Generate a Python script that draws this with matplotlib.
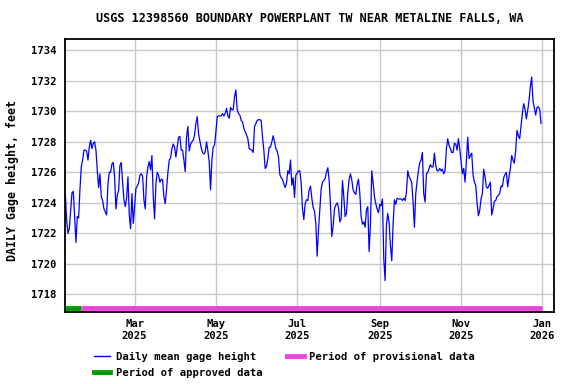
import pandas as pd
import matplotlib
matplotlib.use("Agg")
import matplotlib.pyplot as plt
from matplotlib.lines import Line2D

plt.rcParams['font.family'] = ['DejaVu Sans Mono']
plt.rcParams['font.weight'] = 'bold'

# daily mean gage height, feet (starting 2025-01-08)
start_date = '2025-01-08'
gage_height = [
    1724.6, 1722.85, 1722.0, 1722.3, 1723.5, 1724.65, 1724.75, 1723.1, 1721.4, 1723.1,
    1723.0, 1724.9, 1726.35, 1726.8, 1727.45, 1727.45, 1727.4, 1726.8, 1727.65, 1728.1,
    1727.55, 1727.9, 1728.0, 1727.45, 1726.1, 1725.0, 1725.9, 1724.4, 1724.15, 1723.6,
    1723.4, 1723.2, 1725.25, 1726.0, 1726.0, 1726.55, 1726.65, 1725.7, 1723.6, 1724.5,
    1724.8, 1726.45, 1726.65, 1725.35, 1724.2, 1723.75, 1724.3, 1725.7, 1723.2, 1722.3,
    1724.6, 1722.65, 1723.75, 1724.95, 1725.1, 1725.3, 1725.8, 1725.9, 1725.75, 1724.2,
    1723.6, 1725.7, 1726.35, 1726.7, 1726.15, 1727.1, 1724.4, 1722.95, 1725.25, 1726.0,
    1725.8, 1725.35, 1725.55, 1725.5, 1724.4, 1723.95, 1724.9, 1726.0, 1726.8, 1726.95,
    1727.55, 1727.85, 1727.65, 1727.0, 1727.65, 1728.3, 1728.35, 1727.45, 1727.45, 1726.8,
    1726.05, 1728.35, 1729.0, 1727.4, 1727.85, 1728.0, 1728.1, 1728.45, 1729.2, 1729.65,
    1728.55, 1728.05, 1727.6, 1727.3, 1727.2, 1727.35, 1728.0, 1727.4, 1726.7, 1724.85,
    1726.8, 1727.65, 1727.8, 1728.65, 1729.65, 1729.7, 1729.7, 1729.7, 1729.85, 1729.7,
    1729.85, 1730.2, 1729.7, 1729.55, 1730.25, 1730.1, 1730.1, 1730.95, 1731.4, 1730.1,
    1729.85, 1729.75, 1729.4, 1729.3, 1728.9, 1728.65, 1728.45, 1728.2, 1727.55, 1727.5,
    1727.45, 1727.3, 1729.0, 1729.2, 1729.4, 1729.45, 1729.45, 1729.4, 1728.3, 1727.45,
    1726.25, 1726.4, 1726.9, 1727.65, 1727.65, 1728.0, 1728.4, 1728.0, 1727.55, 1727.4,
    1727.0, 1725.85, 1725.65, 1725.55, 1725.25, 1725.0, 1725.3, 1726.1, 1725.9, 1726.8,
    1725.15, 1725.65, 1724.35, 1725.8, 1725.95, 1726.1, 1726.1, 1725.3, 1723.6, 1722.9,
    1723.95, 1724.2, 1724.15, 1724.85, 1725.1, 1724.3, 1723.7, 1723.45, 1722.65, 1720.5,
    1722.2, 1723.6, 1724.9, 1725.35, 1725.45, 1725.6, 1726.0, 1726.3, 1725.5, 1723.85,
    1721.8, 1722.5, 1723.6, 1723.85, 1724.0, 1723.7, 1722.75, 1722.95, 1725.45, 1724.4,
    1723.1, 1723.3, 1724.65, 1725.55, 1725.9, 1725.5, 1724.85, 1724.65, 1724.55, 1725.2,
    1725.55, 1724.65, 1723.1, 1722.6, 1722.75, 1722.4, 1723.55, 1723.75, 1720.8, 1722.6,
    1726.1, 1725.3, 1724.4, 1723.95, 1723.6, 1723.35, 1723.9, 1723.8, 1724.25, 1720.35,
    1718.9, 1722.55, 1723.3, 1722.7, 1721.2, 1720.2, 1722.6, 1724.2, 1723.9, 1724.3,
    1724.25, 1724.25, 1724.25, 1724.15, 1724.3, 1724.15, 1724.7, 1726.1, 1725.7, 1725.55,
    1725.3, 1724.05, 1722.4, 1724.6, 1725.4, 1726.1, 1726.65, 1726.8, 1727.3, 1724.6,
    1724.05, 1725.9, 1726.0, 1726.25, 1726.5, 1726.35, 1726.35, 1727.25, 1726.45, 1726.1,
    1726.1, 1726.25, 1726.1, 1726.2, 1725.9, 1726.1, 1727.55, 1728.2, 1727.75, 1727.55,
    1727.3, 1727.3, 1727.9, 1727.85, 1727.45, 1728.2, 1727.55, 1726.75, 1725.9, 1726.25,
    1725.35, 1726.75, 1728.3, 1726.9, 1727.1, 1727.25, 1725.85, 1725.35, 1725.15, 1724.05,
    1723.15, 1723.5, 1724.25, 1724.6, 1726.2, 1725.7, 1725.05, 1724.95, 1725.15, 1725.35,
    1723.2, 1723.6, 1724.1, 1724.15, 1724.4, 1724.5, 1724.6, 1725.1, 1725.05, 1725.65,
    1725.85, 1726.0, 1725.05, 1725.7, 1726.25, 1727.1, 1726.8, 1726.6, 1727.45, 1728.75,
    1728.4, 1728.2, 1729.05, 1729.85, 1730.5, 1730.15, 1729.5, 1730.05, 1730.7, 1731.6,
    1732.25, 1730.65, 1730.25, 1729.75, 1730.25, 1730.3, 1730.15, 1729.2,
]

# data-quality periods
approved_period = ['2025-01-07', '2025-01-20']
provisional_period = ['2025-01-20', '2026-01-01']
period_level = 1717.1

tick_dates = ['2025-03-01', '2025-05-01', '2025-07-01', '2025-09-01', '2025-11-01', '2026-01-01']
tick_labels = ['Mar\n2025', 'May\n2025', 'Jul\n2025', 'Sep\n2025', 'Nov\n2025', 'Jan\n2026']
y_ticks = [1718, 1720, 1722, 1724, 1726, 1728, 1730, 1732, 1734]

dates = pd.date_range(start_date, periods=len(gage_height), freq='D')

fig = plt.figure(figsize=(5.76, 3.84), dpi=100)
ax = fig.add_axes([0.1128, 0.1875, 0.849, 0.7109])

ax.plot(dates, gage_height, color='#0000ff', lw=0.9)
ax.plot(pd.to_datetime(approved_period), [period_level] * 2, color='#009900', lw=3.5,
        solid_capstyle='butt')
ax.plot(pd.to_datetime(provisional_period), [period_level] * 2, color='#ee44dd', lw=3.5,
        solid_capstyle='butt')

ax.set_xlim(pd.Timestamp('2025-01-07 18:00'), pd.Timestamp('2026-01-09 18:00'))
ax.set_ylim(1716.84, 1734.74)
ax.set_xticks(pd.to_datetime(tick_dates))
ax.set_xticklabels(tick_labels)
ax.set_yticks(y_ticks)
ax.tick_params(length=0, labelsize=7.6)
ax.tick_params(axis='y', pad=6)
ax.tick_params(axis='x', pad=5)
ax.grid(True, color='#c8c8c8', lw=1)
ax.set_axisbelow(True)
for s in ax.spines.values():
    s.set_linewidth(1.3)

fig.text(0.537, 1 - 19 / 384, 'USGS 12398560 BOUNDARY POWERPLANT TW NEAR METALINE FALLS, WA',
         ha='center', va='center', fontsize=8.45)
fig.text(0.021, 0.529, 'DAILY Gage height, feet', rotation=90, ha='center', va='center',
         fontsize=8.4)

handles = [
    Line2D([], [], color='#0000ff', lw=1),
    Line2D([], [], color='#009900', lw=3.5),
    Line2D([], [], color='#ee44dd', lw=3.5),
]
labels = ['Daily mean gage height', 'Period of approved data', 'Period of provisional data']
fig.legend(handles, labels, loc='upper left', bbox_to_anchor=(0.163, 0.084), ncol=2,
           frameon=False, fontsize=7.6, handlelength=1.55, handletextpad=0.5,
           columnspacing=2.4, labelspacing=0.6, borderpad=0, borderaxespad=0)

fig.savefig('out.png', dpi=100)
